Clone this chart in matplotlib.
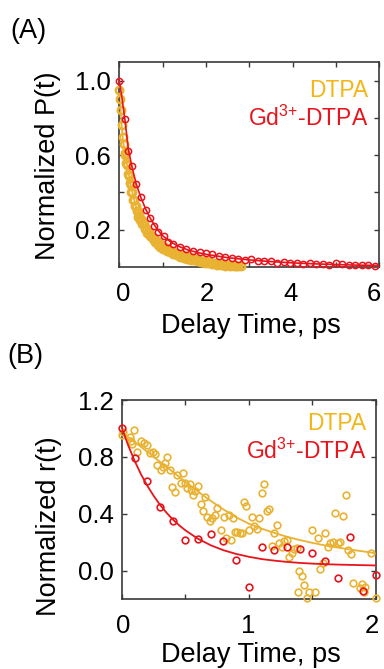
import matplotlib
matplotlib.use("Agg")
import matplotlib.pyplot as plt
from matplotlib.transforms import ScaledTranslation

plt.rcParams['font.family'] = ['Liberation Sans', 'DejaVu Sans']
plt.rcParams['mathtext.fontset'] = 'custom'
plt.rcParams['mathtext.rm'] = 'Liberation Sans'

# ---------------- Panel A data ----------------
a_dtpa_t = [0.000, 0.020, 0.040, 0.060, 0.080, 0.100, 0.120, 0.140, 0.160, 0.180,
            0.200, 0.220, 0.240, 0.260, 0.280, 0.300, 0.320, 0.340, 0.360, 0.380,
            0.400, 0.420, 0.440, 0.460, 0.480, 0.500, 0.530, 0.560, 0.590, 0.620,
            0.650, 0.680, 0.710, 0.740, 0.770, 0.800, 0.830, 0.860, 0.890, 0.920,
            0.950, 0.980, 1.010, 1.050, 1.090, 1.130, 1.170, 1.210, 1.250, 1.290,
            1.330, 1.370, 1.410, 1.450, 1.490, 1.530, 1.570, 1.610, 1.650, 1.690,
            1.730, 1.770, 1.810, 1.850, 1.890, 1.930, 1.970, 2.010, 2.050, 2.100,
            2.150, 2.200, 2.250, 2.300, 2.350, 2.400, 2.450, 2.500, 2.550, 2.600,
            2.650, 2.700, 2.750, 2.800]
a_dtpa_p = [0.95, 0.90, 0.84, 0.76, 0.70, 0.66, 0.61, 0.60, 0.56, 0.55,
            0.50, 0.49, 0.45, 0.44, 0.40, 0.40, 0.36, 0.36, 0.33, 0.33,
            0.30, 0.30, 0.27, 0.28, 0.25, 0.26, 0.23, 0.235, 0.205, 0.21,
            0.185, 0.19, 0.165, 0.17, 0.148, 0.155, 0.135, 0.14, 0.12, 0.128,
            0.108, 0.118, 0.098, 0.105, 0.088, 0.095, 0.078, 0.085, 0.070, 0.077,
            0.062, 0.070, 0.056, 0.062, 0.050, 0.057, 0.045, 0.052, 0.040, 0.047,
            0.036, 0.042, 0.032, 0.038, 0.028, 0.033, 0.022, 0.030, 0.020, 0.026,
            0.016, 0.022, 0.013, 0.018, 0.010, 0.015, 0.007, 0.012, 0.005, 0.009,
            0.004, 0.007, 0.003, 0.005]
a_dtpa_fit_t = [0.00, 0.03, 0.06, 0.09, 0.12, 0.15, 0.18, 0.21, 0.24, 0.27, 0.30,
                0.33, 0.36, 0.40, 0.44, 0.48, 0.52, 0.56, 0.60, 0.65, 0.70, 0.75,
                0.80, 0.85, 0.90, 0.95, 1.00, 1.10, 1.20, 1.30, 1.40, 1.50, 1.60,
                1.70, 1.80, 1.90, 2.00, 2.20, 2.40, 2.60, 2.80]
a_dtpa_fit_p = [0.93, 0.85, 0.74, 0.67, 0.63, 0.59, 0.55, 0.51, 0.47, 0.43, 0.40,
                0.37, 0.345, 0.315, 0.29, 0.265, 0.245, 0.225, 0.21, 0.19, 0.175, 0.16,
                0.148, 0.137, 0.127, 0.118, 0.11, 0.097, 0.085, 0.076, 0.067, 0.06, 0.053,
                0.047, 0.042, 0.037, 0.032, 0.025, 0.018, 0.012, 0.007]

a_gd_t = [0.0, 0.13, 0.21, 0.285, 0.39, 0.5, 0.61, 0.71, 0.81, 0.9,
          1.02, 1.13, 1.25, 1.4, 1.55, 1.7, 1.86, 2.0, 2.15, 2.3,
          2.45, 2.6, 2.75, 2.9, 3.05, 3.2, 3.35, 3.5, 3.65, 3.8,
          3.95, 4.1, 4.25, 4.4, 4.55, 4.7, 4.85, 5.0, 5.15, 5.3,
          5.45, 5.6, 5.75, 5.9]
a_gd_p = [1.0, 0.792, 0.624, 0.542, 0.445, 0.374, 0.306, 0.261, 0.222, 0.19,
          0.166, 0.136, 0.123, 0.109, 0.097, 0.086, 0.080, 0.074, 0.068, 0.058,
          0.054, 0.046, 0.043, 0.038, 0.042, 0.034, 0.030, 0.033, 0.024, 0.028,
          0.022, 0.020, 0.017, 0.020, 0.016, 0.015, 0.012, 0.019, 0.015, 0.011,
          0.012, 0.010, 0.013, 0.008]
a_gd_fit_t = [0.0, 0.065, 0.13, 0.21, 0.285, 0.39, 0.5, 0.61, 0.71, 0.81, 0.9, 1.0,
              1.2, 1.4, 1.6, 1.8, 2.0, 2.5, 3.0, 3.5, 4.0, 4.5, 5.0, 5.5, 6.0]
a_gd_fit_p = [1.0, 0.90, 0.79, 0.63, 0.545, 0.445, 0.372, 0.31, 0.263, 0.225, 0.195, 0.168,
              0.132, 0.108, 0.09, 0.078, 0.068, 0.05, 0.038, 0.029, 0.022, 0.017, 0.013, 0.01, 0.008]

# ---------------- Panel B data ----------------
b_dtpa_t = [0.0, 0.008, 0.06, 0.095, 0.068, 0.079, 0.121, 0.147, 0.173, 0.2,
            0.218, 0.244, 0.258, 0.279, 0.305, 0.323, 0.342, 0.358, 0.376, 0.394,
            0.415, 0.436, 0.463, 0.481, 0.494, 0.515, 0.534, 0.541, 0.56, 0.578,
            0.599, 0.62, 0.639, 0.657, 0.673, 0.691, 0.71, 0.731, 0.752, 0.778,
            0.804, 0.823, 0.841, 0.862, 0.875, 0.889, 0.91, 0.928, 0.946, 0.962,
            0.98, 1.0, 1.023, 1.044, 1.065, 1.08, 1.101, 1.122, 1.141, 1.159,
            1.18, 1.201, 1.22, 1.241, 1.259, 1.28, 1.299, 1.32, 1.338, 1.359,
            1.377, 1.386, 1.396, 1.417, 1.438, 1.457, 1.475, 1.501, 1.522, 1.543,
            1.564, 1.583, 1.6, 1.622, 1.643, 1.661, 1.68, 1.701, 1.719, 1.74,
            1.764, 1.785, 1.806, 1.824, 1.877, 1.895, 1.911, 1.916, 1.966, 2.0]
b_dtpa_r = [0.954, 0.978, 0.942, 0.989, 0.914, 0.891, 0.837, 0.914, 0.900, 0.884,
            0.825, 0.837, 0.820, 0.743, 0.708, 0.731, 0.759, 0.802, 0.708, 0.591,
            0.555, 0.673, 0.614, 0.684, 0.614, 0.579, 0.609, 0.567, 0.532, 0.562,
            0.595, 0.469, 0.422, 0.520, 0.379, 0.351, 0.368, 0.391, 0.438, 0.286,
            0.379, 0.227, 0.391, 0.215, 0.368, 0.274, 0.274, 0.267, 0.262, 0.485,
            0.454, 0.286, 0.379, 0.314, 0.290, 0.372, 0.544, 0.609, 0.422, 0.431,
            0.173, 0.262, 0.321, 0.192, 0.164, 0.211, 0.215, 0.093, 0.121, 0.150,
            0.157, -0.148, -0.001, -0.038, -0.101, -0.195, -0.148, 0.286, -0.148, 0.227,
            0.009, 0.051, 0.262, 0.164, 0.192, 0.203, 0.408, 0.192, 0.203, 0.384,
            0.532, 0.145, 0.114, -0.085, -0.125, -0.094, -0.148, -0.113, 0.121, -0.195]
b_dtpa_fit_t = [0.0, 0.1, 0.2, 0.3, 0.4, 0.5, 0.6, 0.7, 0.8, 0.9, 1.0,
                1.1, 1.2, 1.3, 1.4, 1.5, 1.6, 1.7, 1.8, 1.9, 2.0]
b_dtpa_fit_r = [0.97, 0.905, 0.835, 0.765, 0.695, 0.625, 0.555, 0.49, 0.43, 0.375, 0.33,
                0.295, 0.265, 0.238, 0.215, 0.195, 0.177, 0.162, 0.148, 0.135, 0.122]

b_gd_t = [0.0, 0.1, 0.2, 0.3, 0.4, 0.5, 0.6, 0.7, 0.8, 0.9, 1.0,
          1.1, 1.2, 1.3, 1.4, 1.5, 1.6, 1.7, 1.8, 1.9, 2.0]
b_gd_r = [1.0, 0.794, 0.63, 0.45, 0.349, 0.217, 0.225, 0.255, 0.21, 0.074, -0.118,
          0.168, 0.145, 0.168, 0.150, 0.126, 0.067, -0.054, 0.238, -0.144, -0.028]
b_gd_fit_t = [0.0, 0.05, 0.1, 0.15, 0.2, 0.25, 0.3, 0.35, 0.4, 0.45, 0.5, 0.6, 0.7,
              0.8, 0.9, 1.0, 1.1, 1.2, 1.3, 1.4, 1.5, 1.6, 1.7, 1.8, 1.9, 2.0]
b_gd_fit_r = [1.0, 0.878, 0.771, 0.677, 0.596, 0.525, 0.462, 0.408, 0.360, 0.319, 0.283,
              0.223, 0.178, 0.143, 0.117, 0.097, 0.081, 0.070, 0.061, 0.054, 0.049,
              0.045, 0.042, 0.040, 0.038, 0.036]

a_xticks = [0, 1, 2, 3, 4, 5, 6]
a_xticklabels = ['0', '', '2', '', '4', '', '6']
a_yticks = [0.2, 0.4, 0.6, 0.8, 1.0]
a_yticklabels = ['0.2', '', '0.6', '', '1.0']
b_xticks = [0, 0.5, 1, 1.5, 2]
b_xticklabels = ['0', '', '1', '', '2']
b_yticks = [0.0, 0.4, 0.8, 1.2]
b_yticklabels = ['0.0', '0.4', '0.8', '1.2']

ORANGE = '#E9B232'
ORANGE_TXT = '#F4B516'
RED = '#E8141C'
SPINE = '#3a3a3a'

W, H = 384, 669
fig = plt.figure(figsize=(W / 100, H / 100), dpi=100)

def px_rect(l, t, r, b):
    return [l / W, 1 - b / H, (r - l) / W, (b - t) / H]

axA = fig.add_axes(px_rect(119.3, 62, 379.3, 267))
axB = fig.add_axes(px_rect(122, 400, 375.7, 599))

TICKFS = 18.5

def style(ax):
    for s in ax.spines.values():
        s.set_color(SPINE)
        s.set_linewidth(1.2)
    ax.tick_params(direction='in', top=True, right=True, length=3.5, width=1.0,
                   color=SPINE, labelsize=TICKFS)
    ax.tick_params(axis='x', pad=10.5)
    ax.tick_params(axis='y', pad=6)

def shift_xlabels(ax, shifts_px):
    labs = [l for l in ax.get_xticklabels()]
    for lab, dx in zip(labs, shifts_px):
        lab.set_transform(lab.get_transform() + ScaledTranslation(dx / 100, 0, fig.dpi_scale_trans))

# Panel A
axA.plot(a_dtpa_fit_t, a_dtpa_fit_p, '-', color=ORANGE, lw=1.3, zorder=2)
axA.plot(a_dtpa_t, a_dtpa_p, 'o', mfc='none', mec=ORANGE, ms=5.3, mew=1.8,
         zorder=3, clip_on=False)
axA.plot(a_gd_fit_t, a_gd_fit_p, '-', color=RED, lw=1.2, zorder=4)
axA.plot(a_gd_t, a_gd_p, 'o', mfc='none', mec=RED, ms=4.5, mew=1.1,
         zorder=5, clip_on=False)
axA.set_xlim(0, 6)
axA.set_ylim(0, 1.1)
axA.set_xticks(a_xticks)
axA.set_xticklabels(a_xticklabels)
axA.set_yticks(a_yticks)
axA.set_yticklabels(a_yticklabels)
style(axA)
shift_xlabels(axA, [4, 0, 1, 0, -2, 0, -5])

# Panel B
axB.plot(b_dtpa_fit_t, b_dtpa_fit_r, '-', color=ORANGE, lw=1.3, zorder=2)
axB.plot(b_dtpa_t, b_dtpa_r, 'o', mfc='none', mec=ORANGE, ms=4.8, mew=1.2,
         zorder=3, clip_on=False)
axB.plot(b_gd_fit_t, b_gd_fit_r, '-', color=RED, lw=1.3, zorder=4)
axB.plot(b_gd_t, b_gd_r, 'o', mfc='none', mec=RED, ms=4.8, mew=1.2,
         zorder=5, clip_on=False)
axB.set_xlim(0, 2)
axB.set_ylim(-0.2, 1.2)
axB.set_xticks(b_xticks)
axB.set_xticklabels(b_xticklabels)
axB.set_yticks(b_yticks)
axB.set_yticklabels(b_yticklabels)
style(axB)
shift_xlabels(axB, [1, 0, -1, 0, -4])

LABFS = 19.5
LEGFS = 16.5

def fy(y):
    return 1 - y / H

GD = 'Gd$\\mathregular{^{3{+}}}$-DTPA'

# Legend-like texts
fig.text(368 / W, fy(97), 'DTPA', color=ORANGE_TXT, fontsize=LEGFS, ha='right', va='baseline')
fig.text(368 / W, fy(126), GD, color=RED, fontsize=LEGFS, ha='right', va='baseline')
fig.text(366 / W, fy(430), 'DTPA', color=ORANGE_TXT, fontsize=LEGFS, ha='right', va='baseline')
fig.text(366 / W, fy(459), GD, color=RED, fontsize=LEGFS, ha='right', va='baseline')

# Axis labels
fig.text(48 / W, fy(166), 'Normalized P(t)', rotation=90, fontsize=LABFS,
         ha='center', va='center')
fig.text(49 / W, fy(526), 'Normalized r(t)', rotation=90, fontsize=LABFS,
         ha='center', va='center')
fig.text(251 / W, fy(333), 'Delay Time, ps', fontsize=LABFS, ha='center', va='baseline')
fig.text(251 / W, fy(661.7), 'Delay Time, ps', fontsize=LABFS, ha='center', va='baseline')

# Panel letters
fig.text(10 / W, fy(38), '(A)', fontsize=LABFS, ha='left', va='baseline')
fig.text(7 / W, fy(363), '(B)', fontsize=LABFS, ha='left', va='baseline')

fig.savefig('out.png', dpi=100)
